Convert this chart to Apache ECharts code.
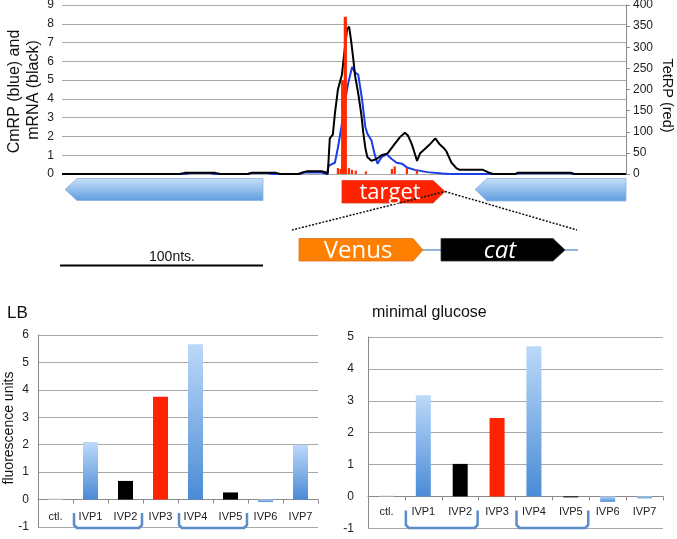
<!DOCTYPE html>
<html>
<head>
<meta charset="utf-8">
<script src="https://cdn.jsdelivr.net/npm/echarts@6/dist/echarts.min.js"></script>
<style>
html,body{margin:0;padding:0;background:#fff;}
#chart{width:677px;height:539px;}
</style>
</head>
<body>
<div id="chart"></div>
<script>
// ---------- DATA ----------
// Top profile: x = position in nucleotides, y = signal
const mrnaProfile = [[0,0],[58,0],[60.5,0.06],[75.5,0.06],[78,0],[91.5,0],[93.5,0.06],[105.5,0.06],[107.5,0],[116.5,0],[119,0.1],[121,0.15],[128,0.15],[130,0.08],[131,0],[132,1.9],[133.5,2.1],[134.5,3.2],[136,4.5],[138,5.3],[139,6.3],[140.5,7.7],[141.5,7.85],[142,7.8],[142.5,7.1],[143.5,6.2],[144.5,5.2],[146,4.3],[147.5,3.2],[148.5,2.2],[149.5,1.4],[150.5,0.9],[152.5,0.7],[155,0.8],[157.5,1.0],[160.5,1.1],[164,1.6],[166.5,1.95],[169,2.2],[170.5,2.05],[172,1.7],[173,1.4],[175,0.7],[176.5,1.1],[179,1.35],[181.5,1.6],[184,1.9],[186,1.6],[188,1.4],[189.5,1.2],[192,0.6],[194.5,0.3],[196,0.22],[207.5,0.22],[211,0.05],[212.5,0],[223.5,0],[224.5,0.06],[251,0.06],[252.5,0],[278,0]];
const cmrpProfile = [[0,0],[61,0],[63,0.05],[73,0.05],[75,0],[91.5,0],[93.5,0.05],[101.5,0.05],[103.5,0],[117,0],[119.5,0.08],[128,0.08],[130.5,0],[131.5,0.45],[134.5,0.6],[136,1.4],[138,2.7],[139.5,3.9],[141,4.8],[143,5.7],[144.5,5.4],[146,5.3],[148,3.9],[149.5,2.5],[150.5,2.15],[152.5,1.8],[154,1.1],[155.5,0.55],[157.5,0.9],[160,1.05],[162.5,0.8],[165,0.6],[167.5,0.55],[170,0.35],[174,0.22],[180,0.1],[187.5,0.03],[191,0],[224,0],[225,0.04],[251,0.04],[252,0],[278,0]];
const tetrpProfile = [[136,14],[137.3,12],[138.1,222],[138.7,222],[139.4,372],[139.9,372],[141.4,14],[142.9,10],[144.8,8],[149.8,6],[162.6,12],[164,18],[170,14],[174.9,8]];

// Bottom panels
const categories = ['ctl.','IVP1','IVP2','IVP3','IVP4','IVP5','IVP6','IVP7'];
const lbValues = [0.04, 2.1, 0.68, 3.75, 5.66, 0.26, -0.09, 2.0];
const glucoseValues = [0.03, 3.17, 1.02, 2.46, 4.71, -0.03, -0.17, -0.06];
const constructType = ['ctl','blue','black','red','blue','black','blue','blue'];
const lbRange = [-1, 6];
const glucoseRange = [-1, 5];

// ---------- STYLE / LAYOUT ----------
const gTop = {left:62, right:51, top:5, height:169};
const gLB = {left:38, width:280, top:335, height:192};
const gGl = {left:368, width:295, top:337, height:191.3};
const FONT = "'Liberation Sans', Arial, sans-serif";
const NARROW = "'Liberation Sans Narrow', 'Liberation Sans', Arial, sans-serif";
const gridColor = '#a8a8a8';

// distance (px) from the grid bottom up to the value 0 of a panel
function zeroOffset(g, range){ return -(0 - range[0]) / (range[1] - range[0]) * g.height; }

function blueGrad(){
  return new echarts.graphic.LinearGradient(0,0,0,1,[{offset:0,color:'#bcd9f9'},{offset:1,color:'#4a8bd5'}]);
}
function colorFor(t){
  if (t==='blue') return blueGrad();
  if (t==='black') return '#000000';
  if (t==='red') return '#ff2200';
  return '#d8dee6';
}
function barItems(vals){
  return vals.map((v,i)=>({value:v, itemStyle:{color:colorFor(constructType[i])}}));
}

function bracket(g, n, fromB, toB, yTop, yBot){
  const band = g.width / n;
  const x1 = g.left + band*fromB + 1, x2 = g.left + band*toB - 1, r = 3;
  return {type:'polyline', z:20, shape:{points:[[x1,yTop],[x1,yBot-r],[x1+r,yBot],[x2-r,yBot],[x2,yBot-r],[x2,yTop]]},
    style:{stroke:'#5b8dc9', lineWidth:2.5, fill:null, lineJoin:'round'}};
}
function txt(x,y,text,font,color,rot){
  return {type:'text', x:x, y:y, rotation:rot||0, z:30,
    style:{text:text, font:font, fill:color||'#111', textAlign:'center', textVerticalAlign:'middle', align:'center', verticalAlign:'middle'}};
}
const geneFill = {type:'linear',x:0,y:0,x2:0,y2:1,colorStops:[{offset:0,color:'#c8e0f9'},{offset:1,color:'#5d9ce0'}]};

function catAxis(gi, g, range, margin){
  return {gridIndex:gi, type:'category', data:categories, position:'bottom', offset:zeroOffset(g, range),
    axisLine:{onZero:false, lineStyle:{color:'#8a8a8a'}},
    axisTick:{show:true, length:4, lineStyle:{color:'#8a8a8a'}},
    axisLabel:{margin:margin, fontSize:11, color:'#222', fontFamily:NARROW}};
}

const chart = echarts.init(document.getElementById('chart'), null, {renderer:'canvas'});
const option = {
  animation:false,
  backgroundColor:'#fff',
  grid:[
    {left:gTop.left, right:gTop.right, top:gTop.top, height:gTop.height, outerBoundsMode:'none', containLabel:false},
    {left:gLB.left, width:gLB.width, top:gLB.top, height:gLB.height, outerBoundsMode:'none', containLabel:false},
    {left:gGl.left, width:gGl.width, top:gGl.top, height:gGl.height, outerBoundsMode:'none', containLabel:false}
  ],
  xAxis:[
    {gridIndex:0, type:'value', min:0, max:278, axisLine:{show:false}, axisTick:{show:false}, axisLabel:{show:false}, splitLine:{show:false}},
    catAxis(1, gLB, lbRange, 12),
    catAxis(2, gGl, glucoseRange, 10)
  ],
  yAxis:[
    {gridIndex:0, type:'value', min:0, max:9, interval:1, axisLine:{show:false}, axisTick:{show:false},
      axisLabel:{fontSize:12, color:'#222', fontFamily:FONT, margin:8}, splitLine:{lineStyle:{color:gridColor}}},
    {gridIndex:0, type:'value', position:'right', min:0, max:400, interval:50, axisLine:{show:true, lineStyle:{color:'#8a8a8a'}},
      axisTick:{show:true, length:4, lineStyle:{color:'#8a8a8a'}}, axisLabel:{fontSize:12, color:'#222', fontFamily:FONT, margin:7}, splitLine:{show:false}},
    {gridIndex:1, type:'value', min:lbRange[0], max:lbRange[1], interval:1, axisLine:{show:true, lineStyle:{color:'#8a8a8a'}}, axisTick:{show:false},
      axisLabel:{fontSize:12, color:'#222', fontFamily:FONT, margin:9}, splitLine:{lineStyle:{color:gridColor}}},
    {gridIndex:2, type:'value', min:glucoseRange[0], max:glucoseRange[1], interval:1, axisLine:{show:true, lineStyle:{color:'#8a8a8a'}}, axisTick:{show:false},
      axisLabel:{fontSize:12, color:'#222', fontFamily:FONT, margin:14}, splitLine:{lineStyle:{color:gridColor}}}
  ],
  series:[
    {name:'CmRP', type:'line', xAxisIndex:0, yAxisIndex:0, data:cmrpProfile, showSymbol:false, symbol:'none', z:3,
      lineStyle:{color:'#1b3de6', width:2}},
    {name:'mRNA', type:'line', xAxisIndex:0, yAxisIndex:0, data:mrnaProfile, showSymbol:false, symbol:'none', z:4,
      lineStyle:{color:'#000', width:2}},
    {name:'TetRP', type:'bar', xAxisIndex:0, yAxisIndex:1, data:tetrpProfile, barWidth:2.2, z:5,
      itemStyle:{color:'#ff2a00'}},
    {name:'LB', type:'bar', xAxisIndex:1, yAxisIndex:2, data:barItems(lbValues), barWidth:15},
    {name:'minimal glucose', type:'bar', xAxisIndex:2, yAxisIndex:3, data:barItems(glucoseValues), barWidth:15}
  ],
  graphic:[
    // axis titles
    txt(15, 91.5, 'CmRP (blue) and', '16px '+FONT, '#111', Math.PI/2),
    txt(33.5, 90, 'mRNA (black)', '16px '+FONT, '#111', Math.PI/2),
    txt(666.5, 95.5, 'TetRP (red)', '14.5px '+FONT, '#111', -Math.PI/2),
    txt(9, 428, 'fluorescence units', '14px '+FONT, '#111', Math.PI/2),
    {type:'text', x:7, y:313, z:30, style:{text:'LB', font:'17px '+FONT, fill:'#111', textVerticalAlign:'middle', verticalAlign:'middle'}},
    {type:'text', x:372, y:313, z:30, style:{text:'minimal glucose', font:'16px '+FONT, fill:'#111', textVerticalAlign:'middle', verticalAlign:'middle'}},
    // gene map
    {type:'polygon', z:10, shape:{points:[[65,189.5],[77,178.5],[263,178.5],[263,200.5],[77,200.5]]}, style:{fill:geneFill, stroke:'#8db3e0', lineWidth:0.8}},
    {type:'polygon', z:10, shape:{points:[[475,189.5],[487,178.5],[626,178.5],[626,201],[487,201]]}, style:{fill:geneFill, stroke:'#8db3e0', lineWidth:0.8}},
    {type:'polygon', z:10, shape:{points:[[342,180.5],[433,180.5],[445,191.5],[433,203],[342,203]]}, style:{fill:'#ff2200', stroke:'#d43a20', lineWidth:0.8}},
    txt(390, 192.5, 'target', '22px "Open Sans", sans-serif', '#ffffff'),
    {type:'line', z:25, shape:{x1:445,y1:191.5,x2:577,y2:230}, style:{stroke:'#111', lineWidth:1.5, lineDash:[2,1.5]}},
    {type:'line', z:25, shape:{x1:443,y1:192,x2:292,y2:230}, style:{stroke:'#111', lineWidth:1.5, lineDash:[2,1.5]}},
    {type:'line', z:10, shape:{x1:423,y1:250,x2:441,y2:250}, style:{stroke:'#6d9bd0', lineWidth:1.5}},
    {type:'line', z:10, shape:{x1:565,y1:250,x2:578,y2:250}, style:{stroke:'#6d9bd0', lineWidth:1.5}},
    {type:'polygon', z:11, shape:{points:[[299,238.5],[413,238.5],[423,250],[413,261],[299,261]]}, style:{fill:'#ff8000', stroke:'#e07020', lineWidth:0.8}},
    txt(358, 251.5, 'Venus', '24px "Open Sans", sans-serif', '#ffffff'),
    {type:'polygon', z:11, shape:{points:[[441,238.5],[553,238.5],[565,250],[553,261],[441,261]]}, style:{fill:'#000000', stroke:'#333', lineWidth:0.8}},
    txt(500, 251.5, 'cat', 'italic 24px "Open Sans", sans-serif', '#ffffff'),
    // scale bar
    {type:'line', z:10, shape:{x1:60,y1:265.5,x2:263,y2:265.5}, style:{stroke:'#000', lineWidth:2}},
    txt(172, 257.5, '100nts.', '14px '+FONT, '#111'),
    // brackets
    bracket(gLB, 8, 1, 3, 513, 528),
    bracket(gLB, 8, 4, 6, 513, 528),
    bracket(gGl, 8, 1, 3, 510.5, 528),
    bracket(gGl, 8, 4, 6, 510.5, 528)
  ]
};
chart.setOption(option);
</script>
</body>
</html>
